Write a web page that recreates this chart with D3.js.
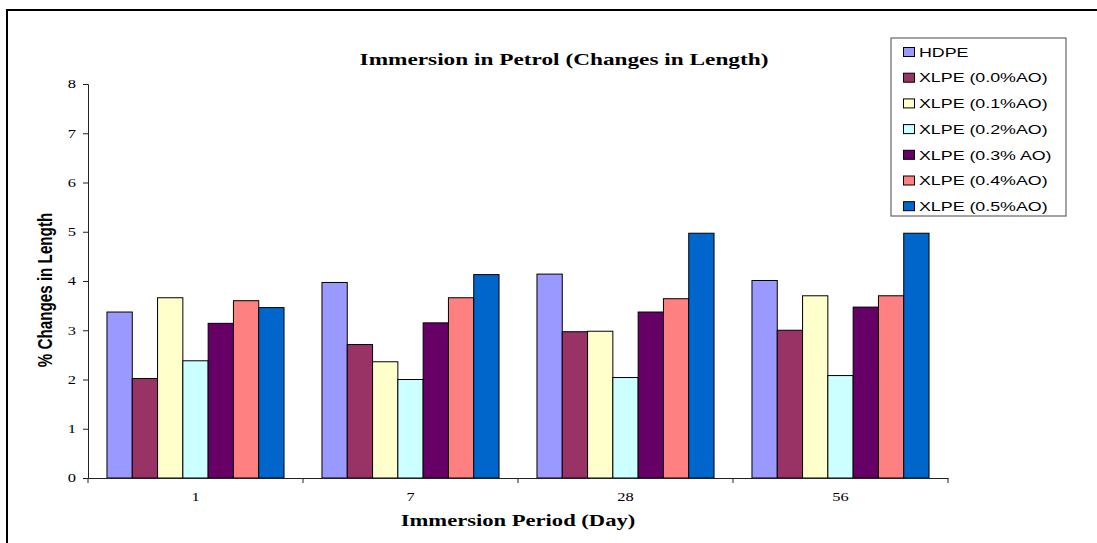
<!DOCTYPE html>
<html>
<head>
<meta charset="utf-8">
<script src="https://cdn.jsdelivr.net/npm/d3@7/dist/d3.min.js"></script>
<style>
  html, body { margin: 0; padding: 0; background: #fff; }
  svg { display: block; }
</style>
</head>
<body>
<svg id="chart" width="1097" height="543"></svg>
<script>
const categories = ["1", "7", "28", "56"];
const seriesNames = ["HDPE", "XLPE (0.0%AO)", "XLPE (0.1%AO)", "XLPE (0.2%AO)", "XLPE (0.3% AO)", "XLPE (0.4%AO)", "XLPE (0.5%AO)"];
const hdpe   = [3.37, 3.97, 4.14, 4.01];
const xlpe00 = [2.02, 2.71, 2.97, 3.00];
const xlpe01 = [3.66, 2.36, 2.98, 3.70];
const xlpe02 = [2.38, 2.00, 2.04, 2.08];
const xlpe03 = [3.14, 3.15, 3.37, 3.47];
const xlpe04 = [3.60, 3.66, 3.64, 3.70];
const xlpe05 = [3.46, 4.13, 4.97, 4.97];
const seriesColors = ["#9999FF", "#993366", "#FFFFCC", "#CCFFFF", "#660066", "#FF8080", "#0066CC"];
const yTicks = [0, 1, 2, 3, 4, 5, 6, 7, 8];
const titleText = "Immersion in Petrol (Changes in Length)";
const xTitle = "Immersion Period (Day)";
const yTitle = "% Changes in Length";

const seriesValues = [hdpe, xlpe00, xlpe01, xlpe02, xlpe03, xlpe04, xlpe05];
const SX = 1.37; // horizontal stretch of the reference
const serif = "'Liberation Serif', 'Times New Roman', serif";
const sans = "'Liberation Sans', Arial, sans-serif";

const svg = d3.select("#chart");
svg.append("rect").attr("width", 1097).attr("height", 543).attr("fill", "#fff");

// outer frame
svg.append("rect").attr("x", 7).attr("y", 10).attr("width", 1100).attr("height", 600)
  .attr("fill", "none").attr("stroke", "#000").attr("stroke-width", 2);

const plot = { left: 88, right: 948, top: 84, bottom: 478 };

const x0 = d3.scaleBand().domain(categories).range([plot.left, plot.right]).paddingInner(0).paddingOuter(0);
const x1 = d3.scaleBand().domain(seriesNames).range([0, x0.bandwidth()]).paddingInner(0).paddingOuter(0.75);
const y = d3.scaleLinear().domain([0, 8]).range([plot.bottom, plot.top]);

// bars
const groups = svg.append("g").selectAll("g")
  .data(categories).enter().append("g")
  .attr("transform", d => `translate(${x0(d)},0)`);

groups.selectAll("rect")
  .data((c, ci) => seriesNames.map((s, si) => ({ s, si, v: seriesValues[si][ci] })))
  .enter().append("rect")
  .attr("x", d => x1(d.s))
  .attr("y", d => y(d.v))
  .attr("width", x1.bandwidth())
  .attr("height", d => y(0) - y(d.v))
  .attr("fill", d => seriesColors[d.si])
  .attr("stroke", "#000")
  .attr("stroke-width", 1);

// y axis
const yAxis = svg.append("g").attr("transform", `translate(${plot.left},0)`)
  .call(d3.axisLeft(y).tickValues(yTicks).tickSize(5).tickFormat(d3.format("d")));
yAxis.select(".domain").attr("stroke", "#222");
yAxis.selectAll(".tick line").attr("stroke", "#222");
yAxis.selectAll(".tick text")
  .attr("x", null).attr("dy", "0.32em")
  .attr("transform", `translate(-12,0) scale(${SX},1)`)
  .attr("text-anchor", "end")
  .style("font-family", serif).style("font-size", "12px").attr("fill", "#000");

// x axis
const xAxis = svg.append("g").attr("transform", `translate(0,${plot.bottom})`)
  .call(d3.axisBottom(x0).tickSize(0).tickPadding(0));
xAxis.select(".domain").attr("stroke", "#222");
xAxis.selectAll(".tick text")
  .attr("y", null).attr("dy", null)
  .attr("transform", `translate(0,23) scale(${SX},1)`)
  .style("font-family", serif).style("font-size", "12px").attr("fill", "#000");
// category boundary ticks
const bounds = categories.map(c => x0(c)).concat([x0(categories[categories.length - 1]) + x0.bandwidth()]);
xAxis.selectAll("line.bound").data(bounds).enter().append("line")
  .attr("class", "bound")
  .attr("x1", d => d).attr("x2", d => d).attr("y1", 0).attr("y2", 5)
  .attr("stroke", "#222");

// title
svg.append("text")
  .attr("transform", `translate(564,65) scale(${SX},1)`)
  .attr("text-anchor", "middle")
  .style("font-family", serif).style("font-size", "17px").style("font-weight", "bold")
  .text(titleText);

// x title
svg.append("text")
  .attr("transform", `translate(518,526) scale(${SX},1)`)
  .attr("text-anchor", "middle")
  .style("font-family", serif).style("font-size", "16.5px").style("font-weight", "bold")
  .text(xTitle);

// y title
svg.append("text")
  .attr("transform", `translate(52,290) scale(${SX},1) rotate(-90)`)
  .attr("text-anchor", "middle")
  .style("font-family", sans).style("font-size", "15.2px").style("font-weight", "bold")
  .text(yTitle);

// legend
const legend = svg.append("g");
legend.append("rect").attr("x", 891).attr("y", 38).attr("width", 175).attr("height", 178)
  .attr("fill", "#fff").attr("stroke", "#666").attr("stroke-width", 1.2);
const items = legend.selectAll("g.item").data(seriesNames).enter().append("g")
  .attr("class", "item")
  .attr("transform", (d, i) => `translate(0,${52 + i * 25.7})`);
items.append("rect").attr("x", 903.5).attr("y", -4.5).attr("width", 11).attr("height", 9)
  .attr("fill", (d, i) => seriesColors[i]).attr("stroke", "#000").attr("stroke-width", 1);
items.append("text")
  .attr("transform", `translate(919,4.7) scale(${SX},1)`)
  .style("font-family", sans).style("font-size", "13px")
  .text(d => d);
</script>
</body>
</html>
